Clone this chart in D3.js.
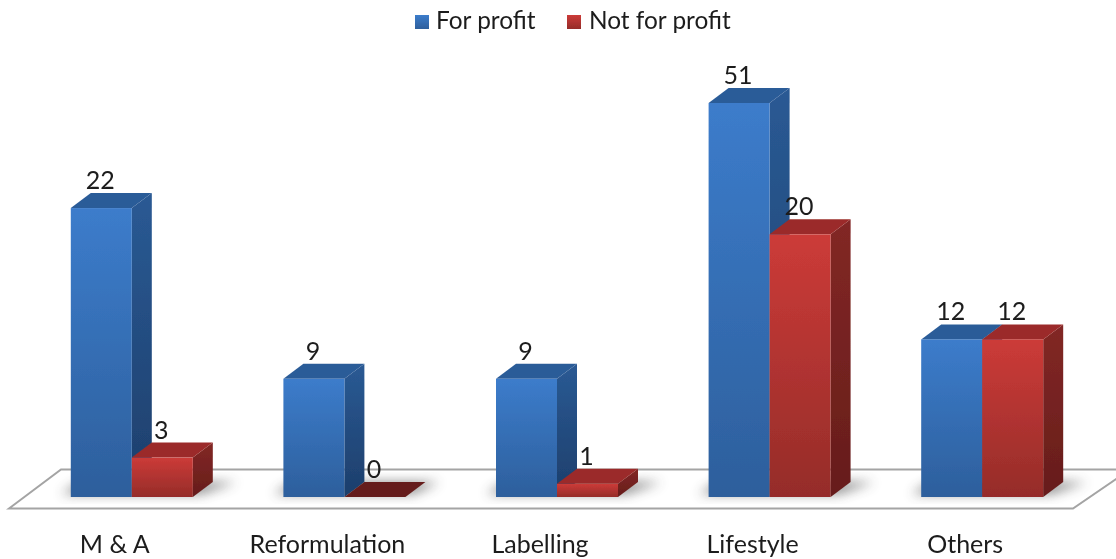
<!DOCTYPE html>
<html><head><meta charset="utf-8">
<script src="https://cdn.jsdelivr.net/npm/d3@7"></script>
<style>html,body{margin:0;padding:0;background:#fff;overflow:hidden}svg{display:block}text{font-family:Lato,"Open Sans",sans-serif;fill:#1c1c1c}</style>
</head><body><div id="c"></div>
<script>
const categories = ["M & A","Reformulation","Labelling","Lifestyle","Others"];
const seriesNames = ["For profit","Not for profit"];
// Heights as drawn in the picture (the Lifestyle bar is drawn shorter than its printed label).
const forProfitHeights = [22,9,9,30,12];
const notForProfitHeights = [3,0,1,20,12];
// Values as printed above the bars.
const forProfitLabels = [22,9,9,51,12];
const notForProfitLabels = [3,0,1,20,12];

const W=1116,H=559, base=497, dx=20, dy=15;
const svg=d3.select("#c").append("svg").attr("width",W).attr("height",H);
const defs=svg.append("defs");
function grad(id,a,b){const g=defs.append("linearGradient").attr("id",id).attr("x1",0).attr("y1",0).attr("x2",0).attr("y2",1);
 g.append("stop").attr("offset",0).attr("stop-color",a);g.append("stop").attr("offset",1).attr("stop-color",b);}
grad("f0","#3C7CCB","#2D5F9C");grad("s0","#2A5A94","#1D3E6B");
grad("f1","#CC3B38","#952C29");grad("s1","#822725","#661D1B");
defs.append("filter").attr("id","soft").append("feGaussianBlur").attr("stdDeviation",0.6);
defs.append("filter").attr("id","shadow").attr("x","-30%").attr("y","-80%").attr("width","160%").attr("height","260%").append("feGaussianBlur").attr("stdDeviation",6);
defs.append("clipPath").attr("id","floorClip").append("path").attr("d","M9,508.5L61,469.5H1130V475L1073,508.5Z");

const x0=d3.scaleBand().domain(categories).range([25.5,1088.5]);
const x1=d3.scaleBand().domain([0,1]).range([-61,61]);
const y=d3.scaleLinear().domain([0,30]).range([base,base-394]);

const root=svg.append("g").attr("filter","url(#soft)");

// floor
root.append("path").attr("d","M9,508.5L61,469.5H1130L1073,508.5Z").attr("fill","#fff").attr("stroke","#a4a4a4").attr("stroke-width",2);

// floor shadows
const shadows=root.append("g").attr("clip-path","url(#floorClip)");
categories.forEach((c,i)=>{
  const cx=x0(c)+x0.bandwidth()/2, L=cx-61, R=cx+61;
  shadows.append("path")
   .attr("d",`M${L-10},494L${L+10},482H${R+30+(notForProfitHeights[i]>0?14:4)}L${R+8},494Z`)
   .attr("fill","#444").attr("opacity",0.62).attr("filter","url(#shadow)");
});

// bars
const rows=categories.flatMap((c,i)=>[
 {c,s:0,v:forProfitHeights[i],l:forProfitLabels[i]},
 {c,s:1,v:notForProfitHeights[i],l:notForProfitLabels[i]}]);
const bars=root.selectAll("g.bar").data(rows).join("g").attr("class","bar");
const left=d=>x0(d.c)+x0.bandwidth()/2+x1(d.s), bw=x1.bandwidth();
bars.filter(d=>d.v>0).append("path").attr("fill",d=>`url(#s${d.s})`)
 .attr("d",d=>{const a=left(d)+bw,t=y(d.v);return `M${a},${t}L${a+dx},${t-dy}V${base-dy}L${a},${base}Z`;});
bars.append("path").attr("fill",d=>d.v>0?(d.s?"#9B2C29":"#2C5C98"):"#651C1A")
 .attr("d",d=>{const a=left(d),t=y(d.v);return `M${a},${t}L${a+dx},${t-dy}H${a+bw+dx}L${a+bw},${t}Z`;});
bars.filter(d=>d.v>0).append("rect").attr("fill",d=>`url(#f${d.s})`)
 .attr("x",left).attr("width",bw).attr("y",d=>y(d.v)).attr("height",d=>base-y(d.v));

// value labels
root.selectAll("text.val").data(rows).join("text").attr("class","val")
 .attr("x",d=>left(d)+bw/2-1).attr("y",d=>y(d.v)-19).attr("text-anchor","middle")
 .attr("font-size",25).text(d=>d.l);

// category axis
const ax=root.append("g").attr("transform","translate(-17,527)")
 .call(d3.axisBottom(x0).tickSize(0).tickPadding(8));
ax.select(".domain").remove();
ax.selectAll("text").attr("font-size",25).attr("font-family",null).style("fill","#1c1c1c");

// legend
const legX=d3.scaleOrdinal().domain(seriesNames).range([415,567]);
const leg=root.selectAll("g.leg").data(seriesNames).join("g").attr("class","leg").attr("transform",d=>`translate(${legX(d)},15)`);
leg.append("rect").attr("width",14).attr("height",14).attr("fill",(d,i)=>`url(#f${i})`);
leg.append("text").attr("x",(d,i)=>i?22:21).attr("y",14).attr("font-size",24.4).text(d=>d);
</script></body></html>
